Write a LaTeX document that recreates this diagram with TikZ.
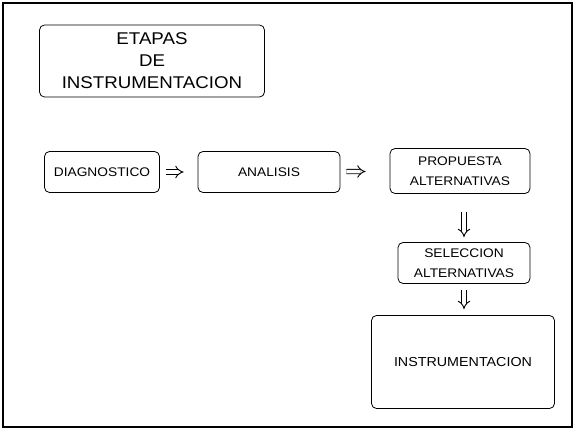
\documentclass[tikz,border=0pt]{standalone}
\usepackage{fontspec}
\setmainfont[FakeStretch=1.1]{Liberation Sans}
\usetikzlibrary{arrows.meta}
\begin{document}
\begin{tikzpicture}[x=1pt,y=-1pt,
  box/.style={draw,rounded corners=5pt,line width=0.8pt,inner sep=0pt,align=center,font=\fontsize{12.5}{20}\selectfont},
  flow/.style={double,double distance=3.5pt,line width=0.9pt,-{Implies}}]
\useasboundingbox (0,0) rectangle (575,430);
\draw[line width=1.6pt] (3,3) rectangle (572,427);
\node[box,minimum width=225,minimum height=72,font=\fontsize{17}{22}\selectfont] (title) at (152,61) {ETAPAS\\DE\\INSTRUMENTACION};
\node[box,minimum width=115,minimum height=41] (diag) at (102,172) {DIAGNOSTICO};
\node[box,minimum width=142,minimum height=41] (anal) at (269,172) {ANALISIS};
\node[box,minimum width=140,minimum height=45] (prop) at (460,171) {PROPUESTA\\ALTERNATIVAS};
\node[box,minimum width=132,minimum height=41] (sel) at (464,263) {SELECCION\\ALTERNATIVAS};
\node[box,minimum width=183,minimum height=93,font=\fontsize{13}{20}\selectfont] (inst) at (463,362) {INSTRUMENTACION};
\draw[flow,shorten <=6pt,shorten >=14pt] (diag) -- (anal);
\draw[flow,shorten <=6pt,shorten >=24pt] (anal) -- (prop);
\draw[flow,shorten <=18pt,shorten >=5pt] (prop.south -| sel.north) -- (sel);
\draw[flow,shorten <=6pt,shorten >=6pt] (sel.south) -- (sel.south |- inst.north);
\end{tikzpicture}
\end{document}
